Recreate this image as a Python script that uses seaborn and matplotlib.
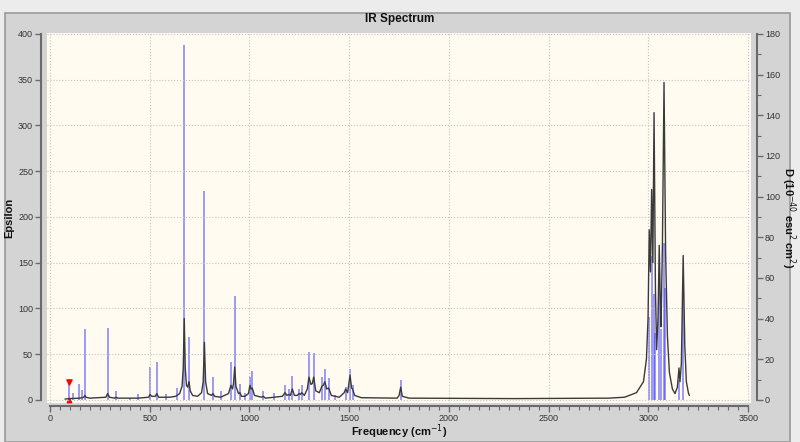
import numpy as np
import pandas as pd
import seaborn as sns
import matplotlib.pyplot as plt
from matplotlib.patches import Rectangle
from matplotlib.ticker import MultipleLocator

# stick spectrum: frequency (cm-1) and dipole strength D (right axis)
stick_freq = [95, 117, 147, 160, 175, 289, 331, 401, 440, 501, 535, 580, 635,
              673, 697, 774, 817, 855, 907, 926, 952, 977, 1002, 1014, 1069,
              1125, 1178, 1196, 1215, 1248, 1262, 1298, 1322, 1363, 1378,
              1397, 1430, 1482, 1504, 1517, 1758,
              3004, 3016, 3028, 3035, 3055, 3065, 3078, 3082, 3153, 3174]
stick_d = [9.0, 3.6, 8.1, 5.0, 34.7, 35.5, 4.5, 0.9, 2.7, 16.2, 18.5, 2.7, 5.9,
           174.6, 30.8, 103.0, 11.3, 4.3, 18.9, 50.9, 8.1, 3.6, 11.3, 14.4, 4.5,
           3.2, 7.2, 5.4, 11.7, 5.4, 7.2, 23.4, 23.0, 11.3, 15.3,
           10.8, 2.3, 6.3, 15.3, 7.2, 9.9,
           41, 71, 52, 33, 62, 35, 77, 55, 10, 54]

# broadened spectrum (Epsilon, left axis), vertices
curve_freq = [75, 95, 150, 170, 175, 180, 200, 280, 289, 298, 325, 331, 340, 440,
              495, 501, 510, 528, 535, 545, 600, 630, 650, 662, 668, 673, 678,
              684, 690, 697, 703, 715, 740, 760, 768, 774, 780, 790, 810, 817,
              825, 855, 895, 903, 907, 915, 920, 926, 932, 945, 952, 960, 977,
              995, 1002, 1008, 1014, 1025, 1060, 1069, 1080, 1125, 1165, 1178,
              1188, 1196, 1205, 1215, 1225, 1240, 1248, 1255, 1262, 1275, 1290,
              1298, 1308, 1315, 1322, 1332, 1350, 1363, 1370, 1378, 1387, 1397,
              1410, 1430, 1450, 1475, 1482, 1492, 1504, 1512, 1517, 1527, 1560,
              1740, 1750, 1758, 1766, 1800, 2330, 2800, 2880, 2940, 2975, 2990,
              2998, 3004, 3010, 3016, 3022, 3028, 3035, 3041, 3048, 3054, 3059,
              3063, 3070, 3078, 3086, 3095, 3105, 3120, 3133, 3145, 3153, 3158,
              3165, 3174, 3182, 3190, 3200, 3205]
curve_eps = [1.0, 1.5, 2, 3, 5, 3, 2, 3, 7, 3, 2, 3, 2, 2,
             3, 6, 4, 4, 7, 3, 3, 4, 7, 15, 35, 89, 35,
             16, 14, 20, 10, 5, 4, 8, 20, 63, 20, 7, 5, 7,
             4, 3, 7, 13, 16, 12, 18, 36, 15, 7, 8, 4, 4,
             7, 16, 12, 13, 5, 3, 4, 2, 3, 4, 8,
             5, 6, 5, 12, 5, 5, 7, 6, 8, 5, 12,
             25, 17, 18, 25, 10, 8, 15, 16, 20, 12, 13,
             5, 4, 3, 8, 12, 8, 27, 13, 12, 5, 2.5,
             2, 5, 14, 4, 2, 1.5, 2, 3, 8, 20, 45,
             90, 186, 140, 230, 150, 314, 120, 55, 90, 169, 110,
             80, 170, 347, 160, 70, 30, 12, 7, 14, 35, 20,
             40, 158, 60, 20, 8, 5]

x_ticks = [0, 500, 1000, 1500, 2000, 2500, 3000, 3500]
eps_ticks = [0, 50, 100, 150, 200, 250, 300, 350, 400]
d_ticks = [0, 20, 40, 60, 80, 100, 120, 140, 160, 180]
marker_freq = 95

sns.set_theme(style="white")
plt.rcParams['font.family'] = ['Liberation Sans', 'DejaVu Sans']

fig = plt.figure(figsize=(8, 4.42), dpi=100)
fig.patch.set_facecolor('#ececec')
fig.patches.append(Rectangle((5 / 800, 0), 785 / 800, (442 - 13) / 442,
                             transform=fig.transFigure, facecolor='#d4d4d4',
                             edgecolor='#9a9a9a', linewidth=1.2, zorder=-5))
fig.text(0.5, 1 - 19 / 442, "IR Spectrum", ha='center', va='center',
         fontsize=8.5, fontweight='bold', color='#111111')

ax = fig.add_axes([47 / 800, (442 - 403) / 442, 704 / 800, 370 / 442])
ax2 = ax.twinx()
ax.set_zorder(ax2.get_zorder() + 1)
ax.patch.set_visible(False)
ax2.patch.set_visible(True)
ax2.patch.set_facecolor('#fffbf0')

sticks = pd.DataFrame({'freq': stick_freq, 'D': stick_d})
ax2.vlines(sticks['freq'], 0, sticks['D'], color='#2a2aff', alpha=0.5,
           linewidth=1.3)
top = sticks.loc[sticks['freq'] == marker_freq, 'D'].iloc[0]
ax2.scatter([marker_freq], [top], marker='v', color='red', s=14, zorder=5)
ax2.scatter([marker_freq], [0], marker='^', color='red', s=10, zorder=5)

spec = pd.DataFrame({'freq': curve_freq, 'eps': curve_eps})
sns.lineplot(data=spec, x='freq', y='eps', ax=ax, sort=False, estimator=None,
             color='#3a3a3a', linewidth=1.0)

ax.set_xlim(-15, 3514)
ax.set_ylim(-3.3, 401)
ax2.set_ylim(-3.3 * 0.45, 401 * 0.45)

ax.set_xticks(x_ticks)
ax.set_yticks(eps_ticks)
ax2.set_yticks(d_ticks)
ax.xaxis.set_minor_locator(MultipleLocator(50))
ax2.yaxis.set_minor_locator(MultipleLocator(10))

ax.grid(True, linestyle=':', color='#c4c4c4', linewidth=0.8)
ax2.grid(False)

spine_col = '#6a6a6a'
for a in (ax, ax2):
    for s in a.spines.values():
        s.set_visible(False)
ax.spines['left'].set_visible(True)
ax.spines['left'].set_position(('outward', 4))
ax.spines['left'].set_bounds(0, 400)
ax.spines['bottom'].set_visible(True)
ax.spines['bottom'].set_position(('outward', 2))
ax.spines['bottom'].set_bounds(0, 3500)
ax2.spines['right'].set_visible(True)
ax2.spines['right'].set_position(('outward', 4))
ax2.spines['right'].set_bounds(0, 180)
for s in (ax.spines['left'], ax.spines['bottom'], ax2.spines['right']):
    s.set_color(spine_col)
    s.set_linewidth(1.5)

ax.tick_params(axis='x', which='major', bottom=True, length=4, width=1,
               color=spine_col, labelsize=6.5, labelcolor='#333333', pad=2)
ax.tick_params(axis='x', which='minor', bottom=True, length=3, width=0.8,
               color=spine_col)
ax.tick_params(axis='y', which='major', left=True, length=4, width=1,
               color=spine_col, labelsize=6.5, labelcolor='#333333', pad=2)
ax2.tick_params(axis='y', which='major', right=True, length=4, width=1,
                color=spine_col, labelsize=6.5, labelcolor='#333333', pad=2)
ax2.tick_params(axis='y', which='minor', right=True, length=3, width=0.8,
                color=spine_col)

ax.set_xlabel("Frequency (cm$^{-1}$)", fontsize=8, fontweight='bold',
              color='#111111')
ax.xaxis.set_label_coords(0.5, -0.052)
ax.set_ylabel("Epsilon", fontsize=8, fontweight='bold', color='#111111')
ax.yaxis.set_label_coords(-0.047, 0.5)
ax2.set_ylabel("D (10$^{-40}$ esu$^{2}$ cm$^{2}$)", fontsize=8,
               fontweight='bold', color='#111111', rotation=270, va='bottom')
ax2.yaxis.set_label_coords(1.04, 0.5)

fig.savefig('out.png', dpi=100, facecolor=fig.get_facecolor())
